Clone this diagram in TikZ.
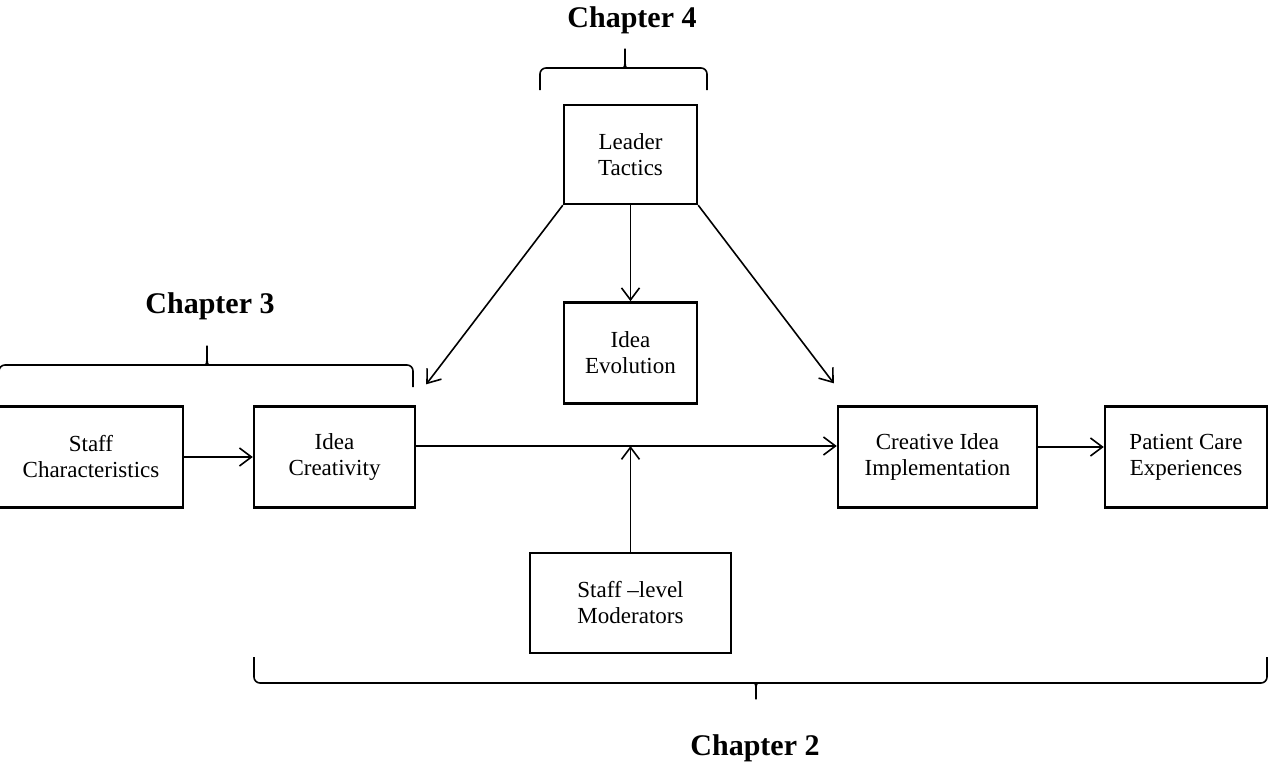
\documentclass[tikz,border=0pt]{standalone}
\usepackage{fontspec}
\setmainfont{Liberation Serif}
\usetikzlibrary{positioning,arrows.meta}

\begin{document}
\begin{tikzpicture}[
    x=0.5pt, y=-0.5pt,
    >={Straight Barb[length=6pt,width=9pt]},
    box/.style={rectangle, draw, line width=1.2pt, align=center, inner sep=2pt,
        minimum height=50.5pt, font=\fontsize{11.5}{13}\selectfont},
    link/.style={->, line width=0.8pt},
    brace line/.style={line width=0.8pt, rounded corners=3pt},
    chapter/.style={font=\fontsize{15}{18}\selectfont\bfseries, anchor=base},
]
    \useasboundingbox (0,0) rectangle (1269,762);

    % main row
    \node[box, minimum width=92pt] (staff) at (91,457) {Staff\\Characteristics};
    \node[box, minimum width=80.5pt, right=34.3pt of staff] (creat) {Idea\\Creativity};
    \node[box, minimum width=99.5pt, right=210.3pt of creat] (impl) {Creative Idea\\Implementation};
    \node[box, minimum width=81pt, right=32.8pt of impl] (patient) {Patient Care\\Experiences};

    % leader and moderators
    \node[box, minimum width=66.5pt, minimum height=49.5pt] (leader) at (630.5,154.5) {Leader\\Tactics};
    \node[box, minimum width=66.5pt, below=48pt of leader] (evol) {Idea\\Evolution};
    \node[box, minimum width=100.5pt, minimum height=50pt] (mod) at (630.5,603) {Staff –level\\Moderators};

    \coordinate (meet) at (630.5,446);
    \coordinate (creat tip) at ([shift={(10,-21)}]creat.north east);
    \coordinate (impl tip) at ([shift={(-3,-22)}]impl.north west);

    \draw[link] (staff) -- (creat);
    \draw[link] ([yshift=5.5pt]creat.east) -- ([yshift=5.5pt]impl.west);
    \draw[link] ([yshift=5pt]impl.east) -- ([yshift=5pt]patient.west);
    \draw[link] (mod) -- (meet);
    \draw[link] (leader) -- (evol);
    \draw[link] (leader.south west) -- (creat tip);
    \draw[link] (leader.south east) -- (impl tip);

    % braces
    \draw[brace line] (540,90) -- (540,68) -- (622,68) .. controls (625,68) .. (625,45)
        .. controls (625,68) .. (628,68) -- (707,68) -- (707,90);
    \draw[brace line] (-1,372) -- (-1,365) -- (204,365) .. controls (207,365) .. (207,342)
        .. controls (207,365) .. (210,365) -- (413,365) -- (413,387);
    \draw[brace line] (254,657) -- (254,683) -- (753,683) .. controls (756,683) .. (756,703)
        .. controls (756,683) .. (759,683) -- (1267,683) -- (1267,657);

    \node[chapter] (ch4) at (632,27) {Chapter 4};
    \node[chapter] (ch3) at (210,313) {Chapter 3};
    \node[chapter] (ch2) at (755,755) {Chapter 2};
\end{tikzpicture}
\end{document}
